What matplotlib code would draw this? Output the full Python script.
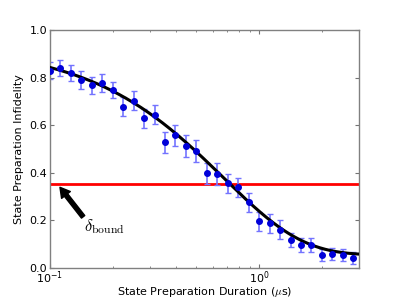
import numpy as np
import matplotlib
matplotlib.use("Agg")
import matplotlib.pyplot as plt

# measured points (duration in us, infidelity)
t_us = [0.100, 0.112, 0.126, 0.141, 0.158, 0.178, 0.200, 0.224, 0.251, 0.282,
        0.316, 0.355, 0.398, 0.447, 0.501, 0.562, 0.631, 0.708, 0.794, 0.891,
        1.000, 1.122, 1.259, 1.413, 1.585, 1.778, 1.995, 2.239, 2.512, 2.818]
infid = [0.829, 0.840, 0.819, 0.790, 0.768, 0.777, 0.748, 0.678, 0.702, 0.629,
         0.643, 0.528, 0.557, 0.513, 0.492, 0.398, 0.395, 0.356, 0.339, 0.276,
         0.196, 0.188, 0.160, 0.118, 0.098, 0.097, 0.056, 0.059, 0.055, 0.041]
err = [0.035, 0.032, 0.035, 0.036, 0.036, 0.036, 0.035, 0.040, 0.040, 0.040,
       0.040, 0.045, 0.045, 0.045, 0.045, 0.045, 0.045, 0.040, 0.040, 0.040,
       0.040, 0.040, 0.040, 0.030, 0.030, 0.030, 0.025, 0.025, 0.025, 0.025]

# fit parameters: c + A*exp(-(t/tau)^p)
fit_c = 0.055
fit_A = 0.88
fit_tau = 0.676
fit_p = 1.15

bound = 0.353

plt.rcParams['mathtext.fontset'] = 'cm'
fig = plt.figure(figsize=(3.99, 2.99), dpi=100)
ax = fig.add_axes([0.1253, 0.1037, 0.7744, 0.796])

tt = np.logspace(-1, np.log10(3.0), 300)
ax.plot(tt, fit_c + fit_A * np.exp(-(tt / fit_tau) ** fit_p), color='black', lw=2.2, zorder=3)
ax.errorbar(t_us, infid, yerr=err, fmt='none', ecolor=(0.45, 0.45, 1.0), elinewidth=1.2,
            capsize=2.5, capthick=1.0, zorder=2)
ax.plot(t_us, infid, 'o', color=(0, 0, 0.85), ms=4, zorder=4)
ax.axhline(bound, color='red', lw=2, zorder=1)

ax.annotate('', xy=(0.1116, 0.339), xytext=(0.144, 0.215),
            arrowprops=dict(facecolor='black', edgecolor='black', width=3, headwidth=8, headlength=7, shrink=0))
ax.text(0.146, 0.155, r'$\delta_{\rm bound}$', fontsize=12)

ax.set_xscale('log')
ax.set_xlim(0.1, 3.0)
ax.set_ylim(0, 1.0)
ax.set_yticks([0, 0.2, 0.4, 0.6, 0.8, 1.0])
ax.set_yticklabels(['0.0', '0.2', '0.4', '0.6', '0.8', '1.0'])
ax.tick_params(which='both', direction='in', top=True, right=True, color='0.45', labelsize=8, pad=2)
ax.tick_params(axis='x', which='both', pad=1)
ax.tick_params(which='major', length=3)
ax.tick_params(which='minor', length=1.5)
for s in ax.spines.values():
    s.set_color('0.5')
    s.set_linewidth(1.0)

ax.set_xlabel(r'State Preparation Duration ($\mu$s)', fontsize=8, labelpad=-1)
ax.set_ylabel('State Preparation Infidelity', fontsize=8, labelpad=4)

fig.savefig('out.png', dpi=100)
